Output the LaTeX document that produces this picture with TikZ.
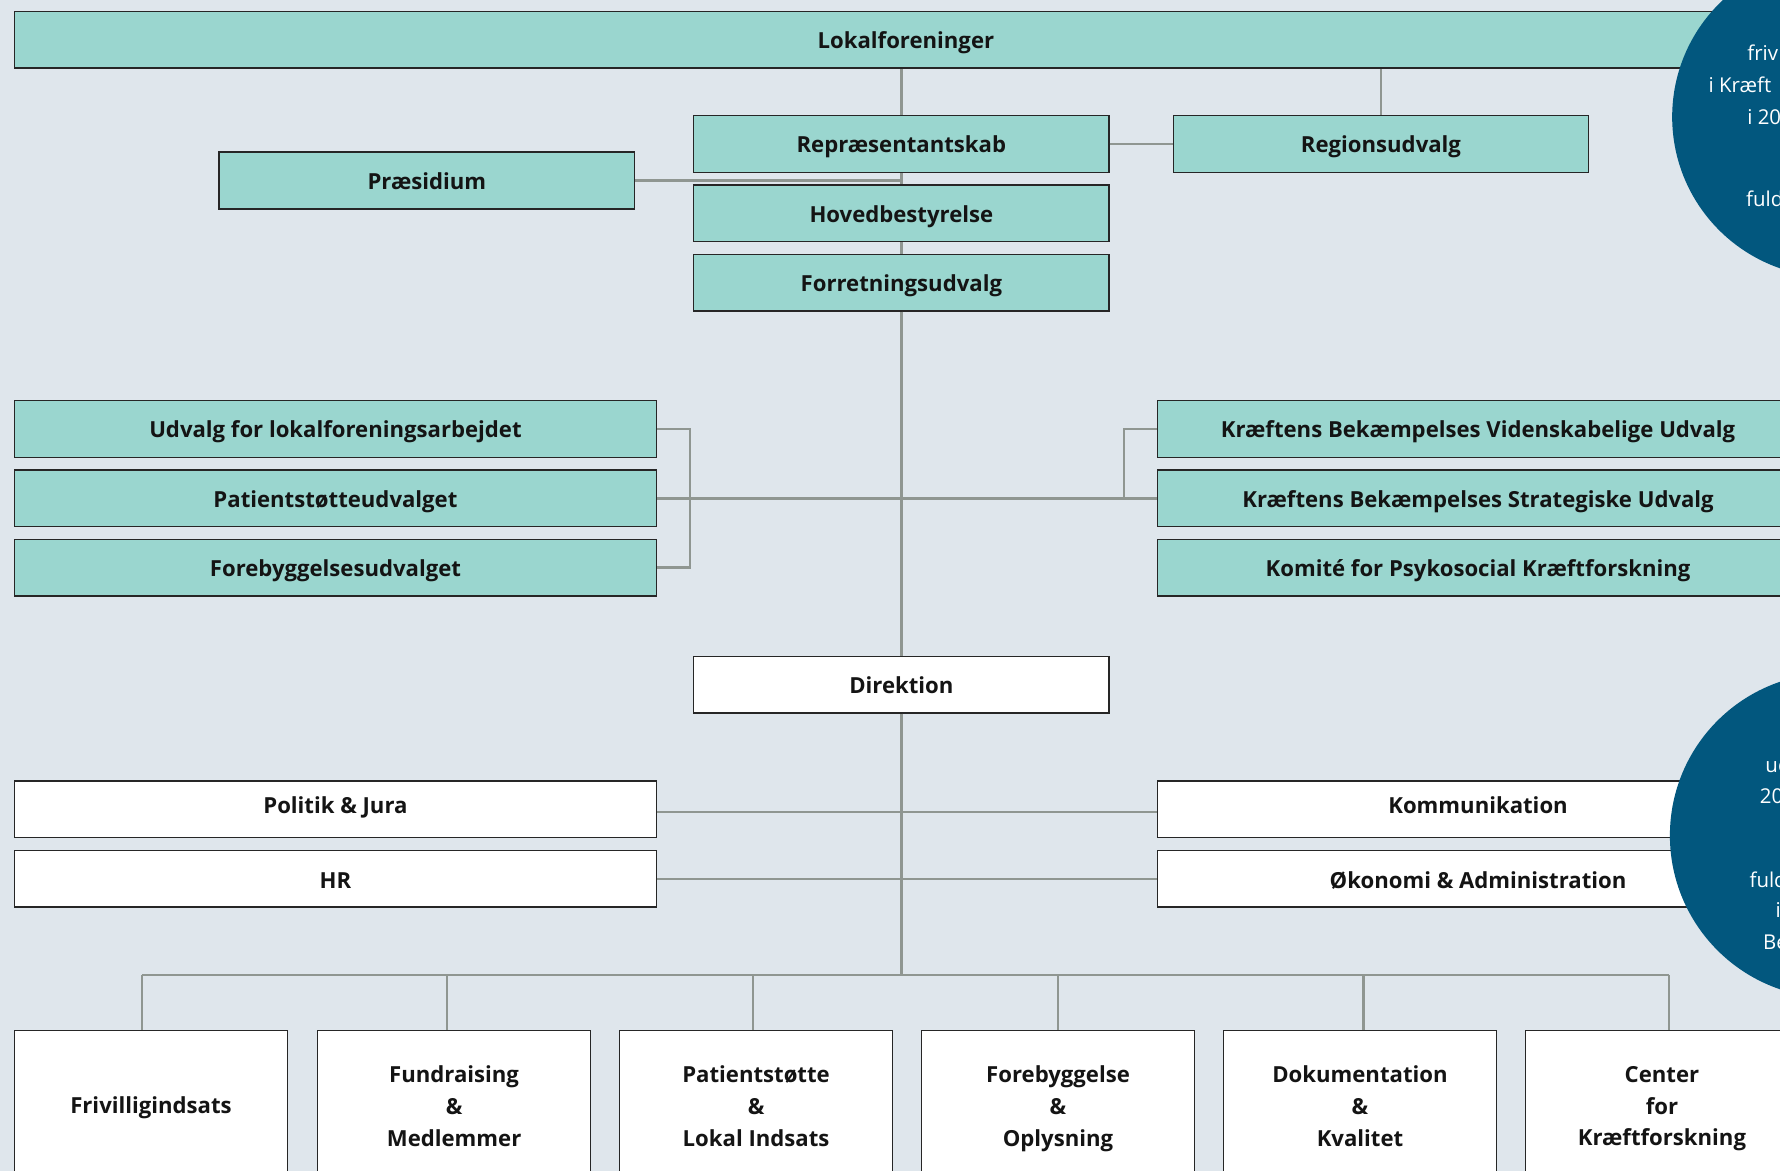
\documentclass[tikz,border=0pt]{standalone}
\usepackage{fontspec}
\setmainfont{Open Sans}
\usetikzlibrary{calc}
\definecolor{bgblue}{RGB}{223,230,236}
\definecolor{kbteal}{RGB}{154,214,207}
\definecolor{kbblue}{RGB}{2,87,126}
\definecolor{linegray}{RGB}{143,150,145}

\begin{document}
\begin{tikzpicture}[x=1pt,y=-1pt,
	box/.style={draw=black!85,line width=1.1pt,fill=kbteal,minimum height=50pt,inner sep=0pt,
		text height=15.5pt,text depth=0pt,text=black!92,font=\bfseries\fontsize{19.5}{28}\selectfont},
	midbox/.style={box,minimum width=366pt},
	widebox/.style={box,minimum width=565pt},
	staffbox/.style={widebox,fill=white},
	deptbox/.style={box,fill=white,anchor=north,minimum width=240pt,minimum height=142pt,align=center,
		text height=,text depth=,execute at begin node=\strut,execute at end node=\strut},
	link/.style={draw=linegray,line width=2pt},
	circtext/.style={text=white,inner sep=0pt,anchor=west,font=\fontsize{18}{22}\selectfont}]
	\useasboundingbox (0,0) rectangle (1568,1031.5);
	\clip (0,0) rectangle (1568,1031.5);
	\fill[bgblue] (0,0) rectangle (1568,1031.5);
	
	\node[box,minimum width=1570pt] (lokal) at (798,35) {Lokalforeninger};
	\node[midbox] (repr) at (794,127) {Repræsentantskab};
	\node[midbox] (hoved) at (794,188) {Hovedbestyrelse};
	\node[midbox] (forret) at (794,249) {Forretningsudvalg};
	\node[midbox] (praes) at (376,159) {Præsidium};
	\node[midbox] (region) at (1216.5,127) {Regionsudvalg};
	
	\node[widebox] (udvalg) at (295.5,378) {Udvalg for lokalforeningsarbejdet};
	\node[widebox] (patient) at (295.5,439) {Patientstøtteudvalget};
	\node[widebox] (forebyg) at (295.5,500) {Forebyggelsesudvalget};
	\node[widebox] (videnskab) at (1302,378) {Kræftens Bekæmpelses Videnskabelige Udvalg};
	\node[widebox] (strateg) at (1302,439) {Kræftens Bekæmpelses Strategiske Udvalg};
	\node[widebox] (komite) at (1302,500) {Komité for Psykosocial Kræftforskning};
	
	\node[midbox,fill=white] (direktion) at (794,603) {Direktion};
	\node[staffbox,text depth=8pt] (politik) at (295.5,713) {Politik \& Jura};
	\node[staffbox,text height=17pt] (hr) at (295.5,774) {HR};
	\node[staffbox,text depth=8pt] (kommunikation) at (1302,713) {Kommunikation};
	\node[staffbox,text height=17pt] (oekonomi) at (1302,774) {Økonomi \& Administration};
	
	\node[deptbox,minimum height=136pt] (frivillig) at (133,907) {Frivilligindsats};
	\node[deptbox] (fundraising) at (400,907) {Fundraising\\\&\\Medlemmer};
	\node[deptbox] (patientst) at (666,907) {Patientstøtte\\\&\\Lokal Indsats};
	\node[deptbox] (forebyggelse) at (932,907) {Forebyggelse\\\&\\Oplysning};
	\node[deptbox] (dokumentation) at (1198,907) {Dokumentation\\\&\\Kvalitet};
	\node[deptbox] (center) at (1464,907) {Center\\for\\Kræftforskning};
	
	\draw[link] (repr.north) -- (repr.north |- lokal.south);
	\draw[link] (region.north) -- (region.north |- lokal.south);
	\draw[link] (repr.east) -- (region.west);
	\draw[link] (repr.south) -- (hoved.north);
	\draw[link] (hoved.south) -- (forret.north);
	\draw[link] (praes.east) -- (praes.east -| repr.south);
	\draw[link] (forret.south) -- (direktion.north);
	
	\draw[link] (patient.east) -- (strateg.west);
	\draw[link] (udvalg.east) -- ++(29,0) |- (forebyg.east);
	\draw[link] (videnskab.west) -- ++(-29,0) coordinate (kbv) -- (kbv |- strateg.west);
	
	\coordinate (busL) at (125,859);
	\coordinate (busR) at (1470,859);
	\draw[link] (direktion.south) -- (direktion.south |- busL);
	\draw[link] (politik.east |- 0,715) -- (kommunikation.west |- 0,715);
	\draw[link] (hr.east) -- (oekonomi.west);
	\draw[link] (busL) -- (busR);
	\foreach \dept [count=\i from 0] in {frivillig,fundraising,patientst,forebyggelse,dokumentation,center}
		\draw[link] ($(busL)+(269*\i,0)$) coordinate (drop) -- (drop |- \dept.north);
	
	\fill[kbblue] (1614,103) circle (141);
	\fill[kbblue] (1614,736) circle (143);
	\node[circtext] (c1a) at (1539,46) {friv};
	\node[circtext] (c1b) at (1505,75) {i Kræft};
	\node[circtext] (c1c) at (1539,103) {i 20};
	\node[circtext] (c1d) at (1538,175) {fuld};
	\node[circtext] (c2a) at (1555,674) {ud};
	\node[circtext] (c2b) at (1550,701) {20};
	\node[circtext] (c2c) at (1541,775) {fuld};
	\node[circtext] (c2d) at (1564,802) {i};
	\node[circtext] (c2e) at (1553,830) {Be};
\end{tikzpicture}
\end{document}
